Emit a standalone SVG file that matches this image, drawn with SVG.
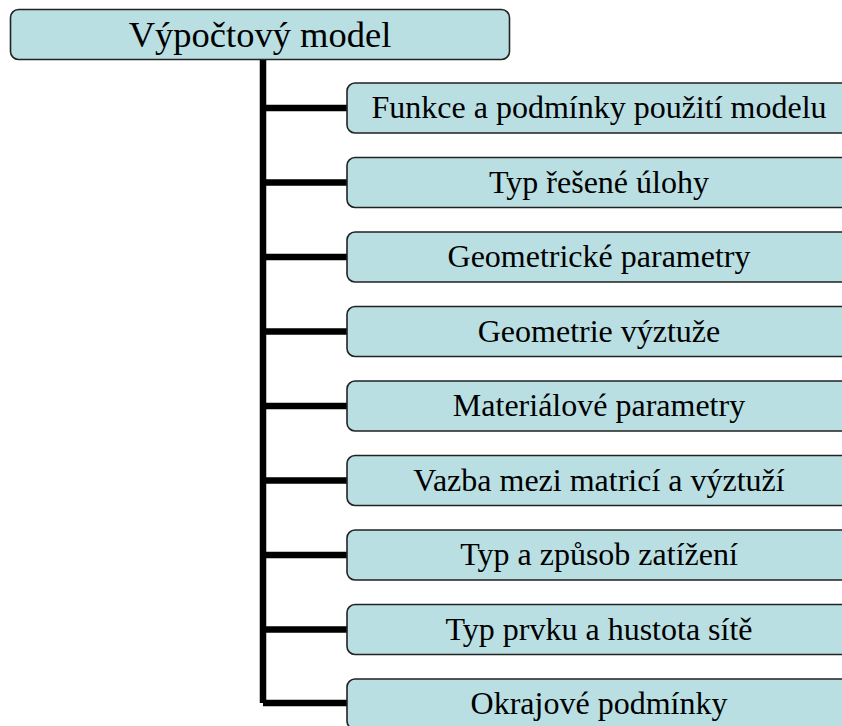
<svg xmlns="http://www.w3.org/2000/svg" width="842" height="726" viewBox="0 0 842 726">
<style>
.box{fill:#B9DFE3;stroke:#222;stroke-width:1.6}
.t{font-family:"Liberation Serif","Times New Roman",serif;font-size:32px;fill:#000;text-anchor:middle}
.tt{font-family:"Liberation Serif","Times New Roman",serif;font-size:36.5px;fill:#000;text-anchor:middle}
.c{fill:none;stroke:#000;stroke-width:6.5}
</style>
<g id="connectors">
<path class="c" d="M263 59V703"/>
<path class="c" d="M263 108H347M263 182.5H347M263 257H347M263 331.5H347M263 406H347M263 480.5H347M263 555H347M263 629.5H347M263 703H347"/>
</g>
<g id="root"><rect class="box" x="10.5" y="9.5" width="499" height="50" rx="8"/><text class="tt" x="260" y="47">Výpočtový model</text></g>
<g id="n1"><rect class="box" x="347" y="83" width="520" height="50" rx="8"/><text class="t" x="599" y="118">Funkce a podmínky použití modelu</text></g>
<g id="n2"><rect class="box" x="347" y="157.5" width="520" height="50" rx="8"/><text class="t" x="599" y="192.5">Typ řešené úlohy</text></g>
<g id="n3"><rect class="box" x="347" y="232" width="520" height="50" rx="8"/><text class="t" x="599" y="267">Geometrické parametry</text></g>
<g id="n4"><rect class="box" x="347" y="306.5" width="520" height="50" rx="8"/><text class="t" x="599" y="341.5">Geometrie výztuže</text></g>
<g id="n5"><rect class="box" x="347" y="381" width="520" height="50" rx="8"/><text class="t" x="599" y="416">Materiálové parametry</text></g>
<g id="n6"><rect class="box" x="347" y="455.5" width="520" height="50" rx="8"/><text class="t" x="599" y="490.5">Vazba mezi matricí a výztuží</text></g>
<g id="n7"><rect class="box" x="347" y="530" width="520" height="50" rx="8"/><text class="t" x="599" y="565">Typ a způsob zatížení</text></g>
<g id="n8"><rect class="box" x="347" y="604.5" width="520" height="50" rx="8"/><text class="t" x="599" y="639.5">Typ prvku a hustota sítě</text></g>
<g id="n9"><rect class="box" x="347" y="679" width="520" height="50" rx="8"/><text class="t" x="599" y="714">Okrajové podmínky</text></g>
</svg>
